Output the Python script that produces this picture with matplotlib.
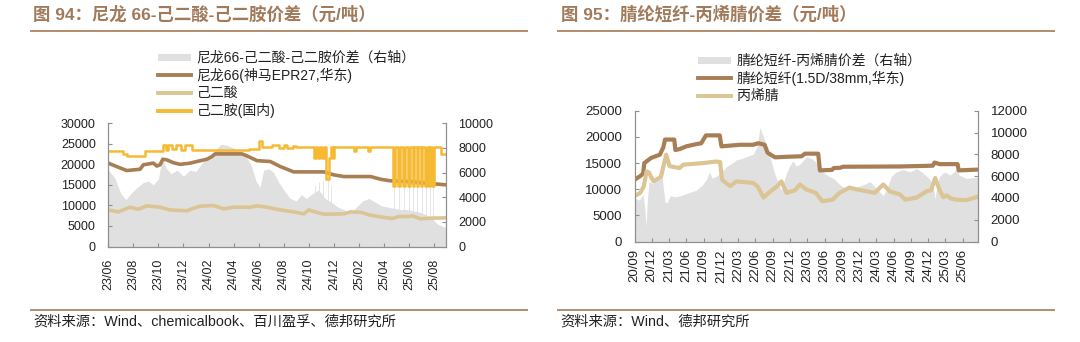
import matplotlib
matplotlib.use('Agg')
import matplotlib.pyplot as plt
from matplotlib.lines import Line2D
from matplotlib.patches import Rectangle

plt.rcParams['font.family'] = ['Liberation Sans', 'Noto Sans CJK SC', 'DejaVu Sans']

# ---------------- Chart 94 data (x = months since 2023-06-01) ----------------
p94_ticks = [0, 2, 4, 6, 8, 10, 12, 14, 16, 18, 20, 22, 24, 26]
p94_ticklabels = ['23/06', '23/08', '23/10', '23/12', '24/02', '24/04', '24/06',
                  '24/08', '24/10', '24/12', '25/02', '25/04', '25/06', '25/08']

nylon_t = [0, 0.8, 1.47, 2.53, 2.8, 3.6, 3.87, 4.13, 4.35, 4.67, 5.2, 5.73, 6.53, 7.07,
           7.87, 8.27, 8.53, 10.67, 11.07, 11.87, 12.93, 13.73, 14.8, 17.2, 18.0, 18.8,
           20.93, 21.73, 22.53, 24.13, 25.47, 26.99]
nylon_v = [20300, 19300, 18500, 18800, 19900, 20300, 19600, 19900, 21250, 21100, 20400,
           20000, 20300, 20700, 21250, 21900, 22550, 22550, 22060, 20900, 20700, 19460,
           18170, 18170, 17440, 17030, 17030, 16380, 15980, 15800, 15400, 15000]

adipic_t = [0, 0.8, 1.73, 2.4, 3.07, 4.13, 4.93, 6.27, 6.8, 7.33, 8.4, 9.2, 10.0, 11.33,
            11.87, 12.67, 13.73, 14.8, 15.6, 16.0, 16.67, 17.2, 18.8, 19.33, 20.13, 20.93,
            21.87, 22.67, 23.2, 24.0, 24.27, 24.93, 25.73, 26.99]
adipic_v = [8900, 8430, 9570, 9080, 9900, 9570, 8900, 8680, 9330, 9810, 9980, 9160, 9570,
            9570, 9900, 9570, 8900, 8430, 7950, 8900, 8270, 7870, 7950, 8430, 8350, 7620,
            7140, 6810, 7300, 7300, 7460, 6730, 6900, 6970]

hmda_t = [0, 1.2, 1.5, 2.9, 4.4, 4.6, 4.8, 5.1, 5.4, 5.8, 6.1, 6.7, 11.2, 12.0, 12.3,
          13.1, 13.6, 14.0, 14.3, 14.7, 15.0, 16.45, 16.6, 16.75, 16.9, 17.05, 17.2, 17.4,
          17.6, 17.75, 17.9, 18.05, 19.6, 19.8, 20.7, 20.9, 22.70, 22.85, 23.15, 23.30,
          23.55, 23.65, 23.90, 24.05, 24.30, 24.40, 24.60, 24.75, 24.95, 25.05, 25.25,
          25.40, 25.60, 25.70, 25.85, 25.98, 26.55, 26.99]
hmda_v = [23200, 22600, 22000, 23200, 24600, 23600, 24800, 23800, 24800, 23600, 24600,
          23500, 23800, 25800, 24200, 24800, 24000, 24700, 24000, 24500, 24300, 21600,
          24300, 21600, 24300, 21600, 24300, 16500, 21600, 24300, 21600, 24300, 23200,
          24300, 23200, 24300, 14800, 24300, 14800, 24300, 14800, 24300, 14800, 24300,
          14800, 24300, 14800, 24300, 14800, 24300, 14800, 24300, 14800, 24300, 14800,
          24300, 22500, 22500]

spread94_t = [0, 0.5, 1.0, 1.4, 1.8, 2.2, 2.8, 3.2, 3.6, 4.0, 4.3, 4.6, 5.0, 5.5, 6.0,
              6.5, 7.0, 7.5, 8.0, 8.5, 9.0, 9.5, 10.0, 10.5, 11.0, 11.4, 11.8, 12.1, 12.4,
              12.8, 13.2, 13.6, 14.0, 14.5, 15.0, 15.4, 15.8, 16.3, 16.8, 17.3, 17.8, 18.3,
              18.8, 19.3, 19.8, 20.3, 20.8, 21.3, 21.8, 22.3, 22.8, 23.3, 23.8, 24.3, 24.8,
              25.3, 25.8, 26.3, 26.99]
spread94_v = [6200, 5600, 4300, 3800, 4300, 4700, 5200, 5300, 5000, 5500, 7200, 6400,
              5900, 6200, 5700, 6200, 6100, 6800, 7300, 7800, 8300, 8200, 8000, 7700, 7300,
              6600, 5300, 4800, 6200, 6300, 6000, 5200, 4600, 3900, 3700, 4200, 3900, 4300,
              4600, 3900, 3600, 3200, 3000, 2700, 3200, 3700, 3900, 3600, 3300, 3200, 3100,
              3000, 3000, 2900, 2800, 2600, 2300, 1800, 1500]
spike94_t = [16.5, 16.8, 17.1, 17.5, 17.8, 22.77, 23.22, 23.6, 23.97, 24.35, 24.67, 25.0,
             25.32, 25.65, 25.9]
spike94_v = [5000, 5200, 5300, 5600, 5000, 7800, 8100, 7600, 8000, 7700, 8100, 7500,
             7900, 7400, 7700]

# ---------------- Chart 95 data (x = months since 2020-09-01) ----------------
p95_ticks = list(range(0, 58, 3))
p95_ticklabels = ['20/09', '20/12', '21/03', '21/06', '21/09', '21/12', '22/03', '22/06',
                  '22/09', '22/12', '23/03', '23/06', '23/09', '23/12', '24/03', '24/06',
                  '24/09', '24/12', '25/03', '25/06']

fiber_t = [0, 1.1, 1.5, 1.7, 2.9, 4.4, 5.0, 5.3, 6.9, 7.1, 7.9, 9.0, 10.2, 11.6, 12.4,
           14.8, 15.1, 18.3, 20.6, 21.5, 22.6, 23.1, 23.8, 24.4, 26.4, 29.0, 29.6, 31.9,
           32.2, 34.3, 34.6, 35.7, 36.2, 46.0, 51.8, 52.1, 53.0, 56.1, 56.3, 59.65]
fiber_v = [11800, 12600, 13000, 15000, 16000, 16600, 18000, 19500, 19500, 17500, 17700,
           18200, 18500, 18800, 20300, 20300, 18200, 18500, 18500, 18800, 18500, 17000,
           16500, 16100, 16200, 16300, 16800, 16800, 13600, 13700, 14050, 14100, 14300,
           14350, 14500, 15100, 14800, 14800, 13600, 13750]

an_t = [0, 0.98, 1.6, 2.1, 2.5, 3.3, 4.6, 5.5, 6.1, 7.8, 8.5, 9.65, 11.9, 14.2, 14.86,
        15.2, 16.6, 17.7, 20.6, 21.4, 22.4, 23.5, 24.7, 25.5, 26.4, 27.86, 28.73, 29.9,
        31.0, 31.5, 32.6, 34.4, 35.6, 37.3, 38.5, 40.3, 41.7, 43.2, 44.3, 46.1, 47.0,
        49.0, 50.7, 51.5, 52.2, 53.0, 53.6, 54.2, 55.0, 55.8, 57.6, 58.8, 59.65]
an_v = [8650, 9300, 10500, 13400, 13200, 11500, 12400, 16600, 14400, 14050, 14700,
        14800, 15000, 15300, 15200, 11800, 10600, 11500, 11200, 10500, 8400, 9500,
        10500, 11500, 9300, 9800, 10900, 9900, 9500, 9300, 7700, 8000, 9300, 10300,
        10000, 9600, 9300, 10900, 9600, 9000, 8000, 8400, 9600, 9800, 12150, 9800,
        8500, 8800, 8200, 8000, 7900, 8300, 8600]

spread95_t = [0, 0.8, 1.5, 1.8, 2.0, 2.2, 2.5, 3.2, 4.0, 4.6, 5.0, 5.3, 5.7, 6.2, 7.0,
              8.0, 9.5, 10.7, 11.8, 12.5, 13.0, 13.5, 14.2, 15.0, 16.0, 17.0, 17.7, 18.5,
              19.5, 20.6, 21.2, 21.5, 21.8, 22.1, 22.6, 23.5, 24.2, 24.7, 25.5, 26.4, 27.0,
              27.5, 28.1, 28.7, 29.9, 30.8, 31.5, 32.2, 33.4, 34.5, 35.7, 36.8, 38.0, 39.7,
              40.9, 42.0, 43.2, 43.8, 44.6, 45.5, 46.7, 47.8, 49.0, 50.1, 51.3, 51.9, 52.2,
              52.5, 53.0, 53.9, 54.8, 55.9, 56.4, 57.6, 59.65]
spread95_v = [4000, 3800, 4300, 3000, 1400, 3500, 5500, 5300, 5800, 6800, 5000, 3600,
              3600, 4200, 4100, 4200, 4500, 4700, 5200, 5700, 6400, 5800, 6000, 6300, 6900,
              7200, 7500, 7600, 7800, 8000, 8600, 9400, 10500, 10000, 9300, 7800, 6500,
              5700, 4700, 6300, 7000, 7400, 6900, 7100, 7800, 7600, 7300, 6600, 6100, 5800,
              5200, 4800, 4900, 5200, 5500, 4900, 4200, 4800, 6000, 6400, 6600, 6400, 6700,
              6300, 5700, 5000, 3900, 5200, 6000, 6400, 6100, 6600, 6100, 5800, 5900]

# ---------------- styles ----------------
BROWN = '#a87e54'
TAN = '#dcc594'
YELLOW = '#f5b932'
GRAY = '#e0e0e0'
SPINE = '#8f8f8f'
TITLE_C = '#a07a5a'
RULE_C = '#b48c6c'
TXT = '#222222'
CJK = ['Liberation Sans', 'Noto Sans CJK SC', 'DejaVu Sans']

W, H = 1080, 342
fig = plt.figure(figsize=(W / 100, H / 100), dpi=100)


def fx(x):
    return x / W


def fy(y):
    return 1 - y / H


def style_axes(ax, axr, fs, xpad):
    for a in (ax, axr):
        a.spines['top'].set_visible(False)
        for s in ('left', 'right', 'bottom'):
            a.spines[s].set_color(SPINE)
            a.spines[s].set_linewidth(0.8)
    ax.tick_params(axis='y', direction='in', length=3, pad=9, labelsize=fs,
                   color=SPINE, labelcolor=TXT)
    axr.tick_params(axis='y', direction='in', length=3, pad=9, labelsize=fs,
                    color=SPINE, labelcolor=TXT)
    ax.tick_params(axis='x', direction='in', length=3, pad=xpad, labelsize=fs,
                   color=SPINE, labelcolor=TXT, labelrotation=90)


# ---------------- Chart 94 ----------------
ax1 = fig.add_axes([fx(108.3), fy(246.5), fx(446 - 108.3), (246.5 - 123.3) / H])
ax1r = ax1.twinx()
ax1.set_zorder(ax1r.get_zorder() + 1)
ax1.patch.set_visible(False)

ax1r.vlines(spike94_t, 0, spike94_v, color='#e6e6e6', lw=0.7, zorder=1)
ax1r.fill_between(spread94_t, 0, spread94_v, color=GRAY, lw=0, zorder=2)
ax1.plot(nylon_t, nylon_v, color=BROWN, lw=2.6, solid_joinstyle='round')
ax1.plot(adipic_t, adipic_v, color=TAN, lw=2.6, solid_joinstyle='round')
ax1.plot(hmda_t, hmda_v, color=YELLOW, lw=1.8, drawstyle='steps-post')

ax1.set_xlim(0, 26.95)
ax1.set_ylim(0, 30000)
ax1.set_yticks(range(0, 30001, 5000))
ax1r.set_ylim(0, 10000)
ax1r.set_yticks(range(0, 10001, 2000))
ax1.set_xticks(p94_ticks)
ax1.set_xticklabels(p94_ticklabels)
style_axes(ax1, ax1r, 9, 9)

# ---------------- Chart 95 ----------------
ax2 = fig.add_axes([fx(634.5), fy(241.5), fx(978.3 - 634.5), (241.5 - 110.8) / H])
ax2r = ax2.twinx()
ax2.set_zorder(ax2r.get_zorder() + 1)
ax2.patch.set_visible(False)

ax2r.fill_between(spread95_t, 0, spread95_v, color=GRAY, lw=0)
ax2.plot(fiber_t, fiber_v, color=BROWN, lw=3.0, solid_joinstyle='round')
ax2.plot(an_t, an_v, color=TAN, lw=3.0, solid_joinstyle='round')

ax2.set_xlim(0, 59.7)
ax2.set_ylim(0, 25000)
ax2.set_yticks(range(0, 25001, 5000))
ax2r.set_ylim(0, 12000)
ax2r.set_yticks(range(0, 12001, 2000))
ax2.set_xticks(p95_ticks)
ax2.set_xticklabels(p95_ticklabels)
style_axes(ax2, ax2r, 9.5, 5.5)

# ---------------- titles, rules, sources ----------------
fig.text(fx(33), fy(14.5), '图 94：尼龙 66-己二酸-己二胺价差（元/吨）', fontsize=12.5,
         fontweight='bold', color=TITLE_C, va='center', ha='left', family=CJK)
fig.text(fx(561), fy(14.5), '图 95：腈纶短纤-丙烯腈价差（元/吨）', fontsize=12.5,
         fontweight='bold', color=TITLE_C, va='center', ha='left', family=CJK)
for (x0, x1) in ((31, 527), (558, 1054)):
    fig.add_artist(Line2D([fx(x0), fx(x1)], [fy(31)] * 2, color=RULE_C, lw=1.4))
    fig.add_artist(Line2D([fx(x0), fx(x1)], [fy(310)] * 2, color=RULE_C, lw=1.4))
fig.text(fx(33), fy(322), '资料来源：Wind、chemicalbook、百川盈孚、德邦研究所', fontsize=10.3,
         color=TXT, va='center', ha='left', family=CJK)
fig.text(fx(560), fy(322), '资料来源：Wind、德邦研究所', fontsize=10.3,
         color=TXT, va='center', ha='left', family=CJK)

# ---------------- legends ----------------
def legend(x0, x1, xt, rows):
    for y, kind, col, label in rows:
        if kind == 'patch':
            fig.add_artist(Rectangle((fx(x0), fy(y + 3.5)), fx(x1 - x0), 7 / H,
                                     facecolor=col, edgecolor='none'))
        else:
            fig.add_artist(Line2D([fx(x0), fx(x1)], [fy(y)] * 2, color=col, lw=2.8))
        fig.text(fx(xt), fy(y), label, fontsize=10, color=TXT, va='center',
                 ha='left', family=CJK)


legend(157.5, 191, 196, [
    (57.8, 'patch', GRAY, '尼龙66-己二酸-己二胺价差（右轴）'),
    (75.0, 'line', BROWN, '尼龙66(神马EPR27,华东)'),
    (92.9, 'line', TAN, '己二酸'),
    (110.8, 'line', YELLOW, '己二胺(国内)'),
])
legend(697.5, 731, 737, [
    (60.2, 'patch', GRAY, '腈纶短纤-丙烯腈价差（右轴）'),
    (78.4, 'line', BROWN, '腈纶短纤(1.5D/38mm,华东)'),
    (96.3, 'line', TAN, '丙烯腈'),
])

fig.savefig('out.png', dpi=100, facecolor='white')
